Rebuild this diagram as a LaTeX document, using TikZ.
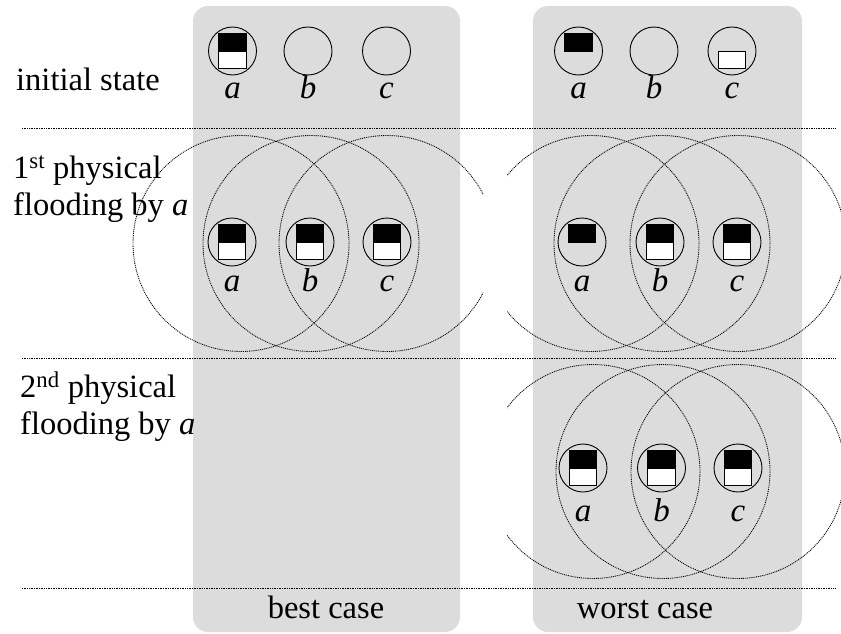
\documentclass[tikz,border=0pt]{standalone}
\usepackage{fontspec}
\setmainfont{Liberation Serif}
\usetikzlibrary{calc}
\definecolor{panelgray}{RGB}{220,220,220}
\tikzset{
  panel/.style={fill=panelgray, draw=none, rounded corners=15pt},
  sep/.style={line width=0.9pt, dash pattern=on 0.9pt off 0.8pt, black},
  radiorange/.style={line width=0.85pt, dash pattern=on 1pt off 0.9pt, black},
  station/.style={circle, draw=black, line width=0.9pt, minimum size=48pt, inner sep=0pt},
  lbl/.style={font=\fontsize{33}{39}\selectfont\itshape, anchor=base, inner sep=0pt},
  rowtxt/.style={font=\fontsize{32.5}{39}\selectfont, anchor=base west, inner sep=0pt},
  captxt/.style={font=\fontsize{32.5}{39}\selectfont, anchor=base, inner sep=0pt},
  bufbox/.style={draw=black, line width=0.7pt}
}
\newcommand\topbuf[1]{\draw[bufbox, fill=black] ($(#1.center)+(-13.8pt,0pt)$) rectangle ($(#1.center)+(13.8pt,17.8pt)$);}
\newcommand\botbuf[1]{\draw[bufbox, fill=white] ($(#1.center)+(-13.8pt,-17.8pt)$) rectangle ($(#1.center)+(13.8pt,0pt)$);}
\newcommand\fullbuf[1]{\botbuf{#1}\topbuf{#1}}
\begin{document}
\begin{tikzpicture}[x=1pt,y=-1pt]
\useasboundingbox (0,0) rectangle (841,634);
% panels
\path[panel] (193,6) rectangle (460,632);
\path[panel] (533,6) rectangle (802,632);
% separators
\coordinate (s1l) at (22,128); \coordinate (s1r) at (835,128);
\coordinate (s2l) at (22,358); \coordinate (s2r) at (835,358);
\coordinate (s3l) at (22,588); \coordinate (s3r) at (835,588);
\draw[sep] (s1l) -- (s1r);
\draw[sep] (s2l) -- (s2r);
\draw[sep] (s3l) -- (s3r);
% row texts
\node[rowtxt] (t1) at (16,91) {initial state};
\node[rowtxt] (t2a) at (13,178) {1\textsuperscript{st} physical};
\node[rowtxt] (t2b) at (13,215) {flooding by \textit{a}};
\node[rowtxt] (t3a) at (20,397) {2\textsuperscript{nd} physical};
\node[rowtxt] (t3b) at (20,434) {flooding by \textit{a}};
\node[captxt] (cb) at (326,618) {best case};
\node[captxt] (cw) at (645,618) {worst case};
% ranges, best case row 2
\begin{scope}
\clip (0,0) rectangle (483,634);
\draw[radiorange] (241,243.5) circle[radius=108pt];
\draw[radiorange] (311,243.5) circle[radius=108pt];
\draw[radiorange] (387,243.5) circle[radius=108pt];
\end{scope}
% ranges, worst case rows 2 and 3
\begin{scope}
\clip (507,0) rectangle (841,634);
\draw[radiorange] (591,243.5) circle[radius=108pt];
\draw[radiorange] (662,243.5) circle[radius=108pt];
\draw[radiorange] (738,243.5) circle[radius=108pt];
\draw[radiorange] (593,471.5) circle[radius=107pt];
\draw[radiorange] (663,471.5) circle[radius=107pt];
\draw[radiorange] (738,471.5) circle[radius=107pt];
\end{scope}
% row 1
\node[station] (b1a) at (232.5,51) {};
\node[station] (b1b) at (308,51) {};
\node[station] (b1c) at (386.5,51) {};
\node[station] (w1a) at (578.5,51) {};
\node[station] (w1b) at (654,51) {};
\node[station] (w1c) at (732,51) {};
\fullbuf{b1a}
\topbuf{w1a}
\botbuf{w1c}
% row 2
\node[station] (b2a) at (232,242) {};
\node[station] (b2b) at (310,242) {};
\node[station] (b2c) at (387,242) {};
\node[station] (w2a) at (582,242) {};
\node[station] (w2b) at (660,242) {};
\node[station] (w2c) at (737,242) {};
\fullbuf{b2a}\fullbuf{b2b}\fullbuf{b2c}
\topbuf{w2a}\fullbuf{w2b}\fullbuf{w2c}
% row 3
\node[station] (w3a) at (583,468) {};
\node[station] (w3b) at (661.5,468) {};
\node[station] (w3c) at (738,468) {};
\fullbuf{w3a}\fullbuf{w3b}\fullbuf{w3c}
% labels
\foreach \n/\x/\y/\t in {b1a/232.5/99/a, b1b/308/99/b, b1c/386.5/99/c,
  w1a/578.5/99/a, w1b/654/99/b, w1c/732/99/c,
  b2a/232/291/a, b2b/310/291/b, b2c/387/291/c,
  w2a/582/291/a, w2b/660/291/b, w2c/737/291/c,
  w3a/583/521/a, w3b/661.5/521/b, w3c/738/521/c}
  \node[lbl] (l\n) at (\x,\y) {\t};
\end{tikzpicture}
\end{document}
